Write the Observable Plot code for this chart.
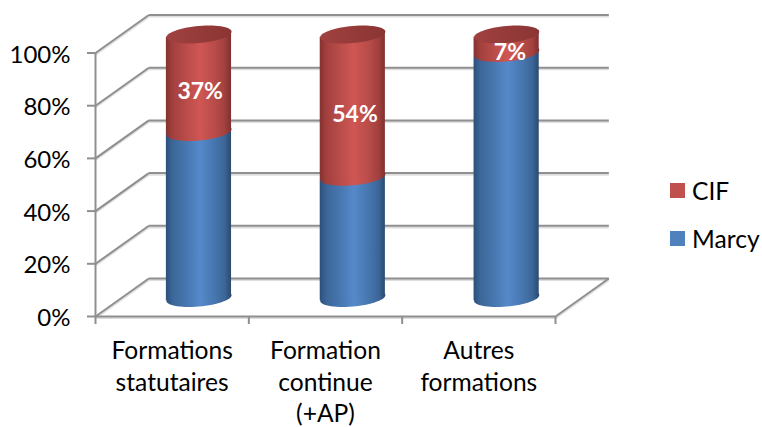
<!DOCTYPE html>
<html><head><meta charset="utf-8">
<script src="https://cdn.jsdelivr.net/npm/d3@7"></script>
<script src="https://cdn.jsdelivr.net/npm/@observablehq/plot@0.6"></script>
<style>
html,body{margin:0;padding:0;background:#fff}
#wrap{position:relative;width:762px;height:427px;overflow:hidden;font-family:Lato,sans-serif}
#legend{position:absolute;left:670px;top:166px;font-size:24.6px;color:#000}
#legend div{display:flex;align-items:center;height:48px;white-space:nowrap}
#legend i{display:block;width:15px;height:15px;margin-right:7px}
</style></head><body><div id="wrap"><div id="legend"></div></div>
<script>
const categories = ["Formations\nstatutaires", "Formation\ncontinue\n(+AP)", "Autres\nformations"];
const marcy = [63, 46, 93];
const cif = [37, 54, 7];
const yTicks = [0, 20, 40, 60, 80, 100];
const xTicks = [0, 1, 2, 3];
const legendItems = [["CIF", "#c0504d"], ["Marcy", "#4f81bd"]];

// oblique depth of the 3D box, in scale units
const depthX = 0.3478, depthY = 14.42;
const halfBar = 0.2125, barStep = 1.0033, labelStep = 1.01, tilt = 1.06;
const rows = categories.map((c, i) => ({i, c, cx: i * barStep + .5, marcy: marcy[i], cif: cif[i]}));
const sides = rows.flatMap(d => [-1, 1].map(s => ({...d, s, x: d.cx + s * halfBar, t: s * tilt})));

const tiltedEllipse = {
  draw(ctx) {
    const n = 60;
    for (let t = 0; t <= n; t++) {
      const a = 2 * Math.PI * t / n;
      const x = 32.6 * Math.cos(a), y = -2.8 * Math.cos(a) + 8.5 * Math.sin(a);
      t ? ctx.lineTo(x, y) : ctx.moveTo(x, y);
    }
    ctx.closePath();
  }
};

function gradient(id, stops) {
  return `<linearGradient id="${id}" x1="0" x2="1" y1="0" y2="0">` +
    stops.map(([o, c]) => `<stop offset="${o}" stop-color="${c}"/>`).join("") + `</linearGradient>`;
}
const defsMark = () => {
  const g = document.createElementNS("http://www.w3.org/2000/svg", "defs");
  g.innerHTML =
    gradient("blue", [[0,"#2c4f7a"],[.1,"#3c6698"],[.3,"#4676ae"],[.52,"#5589ca"],[.75,"#4676ae"],[.9,"#3c6698"],[1,"#2b4a70"]]) +
    gradient("red", [[0,"#843230"],[.1,"#a2403e"],[.3,"#b84c49"],[.52,"#cf5653"],[.75,"#b84c49"],[.9,"#a2403e"],[1,"#803030"]]) +
    gradient("redTop", [[0,"#a04140"],[.5,"#953b39"],[1,"#8a3534"]]);
  return g;
};

const gridC = "#8f8f8f", shadowC = "#dedede", fs = 24.6;
const bar = {dx: 26.8, dy: -18.5};
const ell = {...bar, symbol: tiltedEllipse, r: 10};
const line = {stroke: gridC, strokeWidth: 2};
const shade = {stroke: shadowC, strokeWidth: 2, dy: 1.6};
const backWall = {x1: depthX, x2: 3 + depthX, y1: d => d + depthY, y2: d => d + depthY};
const sideWall = {x1: 0, x2: depthX, y1: d => d, y2: d => d + depthY};
const floorEdge = {x1: 3, x2: 3 + depthX, y1: 0, y2: depthY};

const chart = Plot.plot({
  width: 762, height: 427,
  marginLeft: 95, marginRight: 207, marginTop: 52.5, marginBottom: 111,
  style: {fontFamily: "Lato, sans-serif", fontSize: fs + "px", background: "transparent", overflow: "visible"},
  x: {domain: [0, 3], axis: null},
  y: {domain: [0, 100], axis: null},
  marks: [
    defsMark,
    // soft shadows under the grid lines
    Plot.link(yTicks, {...backWall, ...shade}),
    Plot.link(yTicks, {...sideWall, ...shade}),
    Plot.link([0], {...floorEdge, ...shade}),
    Plot.ruleY([0], {x1: 0, x2: 3, ...shade}),
    // back wall grid, side wall diagonals, floor edge
    Plot.link(yTicks, {...backWall, ...line}),
    Plot.link(yTicks, {...sideWall, ...line}),
    Plot.link([0], {...floorEdge, ...line}),
    // front axes
    Plot.ruleX([0], {y1: 0, y2: 100, ...line}),
    Plot.ruleY([0], {x1: 0, x2: 3, ...line}),
    Plot.axisY({ticks: yTicks, tickSize: 8, tickFormat: () => "", label: null, ...line}),
    Plot.axisY({ticks: yTicks, tickSize: 0, tickPadding: 25, dy: 2, tickFormat: d => d + "%", label: null, fill: "#000", fontSize: 24}),
    Plot.axisX({ticks: xTicks, tickSize: 8, tickFormat: () => "", label: null, ...line}),
    // cylinders
    Plot.dot(rows, {...ell, x: "cx", y: 0, fill: "url(#blue)"}),
    Plot.area(sides, {...bar, x1: "x", y1: d => d.t, y2: d => d.marcy + d.t, z: "i", fill: "url(#blue)"}),
    Plot.dot(rows, {...ell, x: "cx", y: "marcy", fill: "url(#red)"}),
    Plot.area(sides, {...bar, x1: "x", y1: d => d.marcy + d.t, y2: d => d.marcy + d.cif + d.t, z: "i", fill: "url(#red)"}),
    Plot.dot(rows, {...ell, x: "cx", y: d => d.marcy + d.cif, fill: "url(#redTop)"}),
    // value labels
    Plot.text(rows, {x: d => d.i * labelStep + .5, y: d => d.marcy + d.cif / 2, text: d => d.cif + "%", dx: 28, dy: -10, fill: "#fff", fontWeight: "bold", fontSize: 23}),
    // category labels
    Plot.text(rows, {x: d => d.i + .5, y: 0, text: "c", dy: 20.5, lineAnchor: "top", lineHeight: 1.28, fill: "#000", fontSize: fs})
  ]
});
const wrap = document.getElementById("wrap");
wrap.insertBefore(chart, wrap.firstChild);
chart.style.display = "block";
const legend = document.getElementById("legend");
for (const [name, color] of legendItems) {
  const row = document.createElement("div");
  const sw = document.createElement("i");
  sw.style.background = color;
  row.append(sw, name);
  legend.append(row);
}
</script></body></html>
